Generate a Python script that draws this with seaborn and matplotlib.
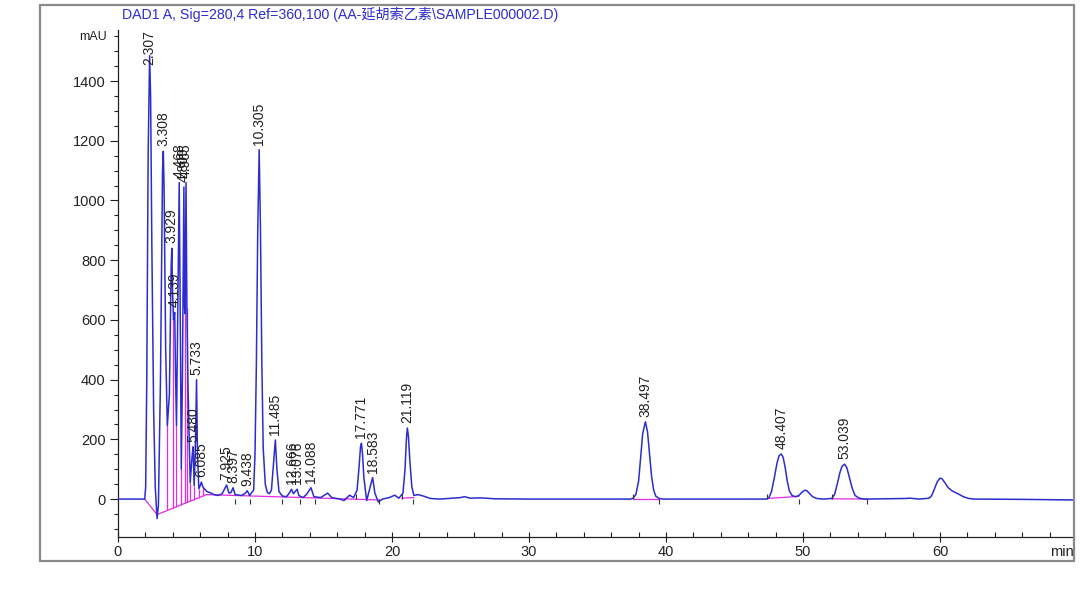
import numpy as np
import pandas as pd
import seaborn as sns
import matplotlib.pyplot as plt
from matplotlib.patches import Rectangle
from matplotlib.ticker import MultipleLocator
import matplotlib.transforms as mtransforms

# trace vertices (time in min, signal in mAU)
trace_t = [0.0, 1.95, 2.02, 2.1, 2.2, 2.307, 2.38, 2.47, 2.6, 2.72, 2.85, 2.95,
           3.1, 3.25, 3.308, 3.36, 3.48, 3.6, 3.75, 3.88, 3.929, 3.98, 4.05, 4.139,
           4.2, 4.27, 4.38, 4.468, 4.53, 4.62, 4.7, 4.809, 4.86, 4.9, 4.965, 5.03,
           5.1, 5.27, 5.4, 5.48, 5.56, 5.66, 5.733, 5.8, 5.9, 6.0, 6.085, 6.2, 6.5,
           6.8, 7.0, 7.3, 7.6, 7.925, 8.1, 8.25, 8.397, 8.55, 9.0, 9.25, 9.438, 9.6,
           9.9, 10.0, 10.1, 10.2, 10.305, 10.4, 10.5, 10.6, 10.75, 10.9, 11.05,
           11.2, 11.35, 11.485, 11.6, 11.75, 12.0, 12.3, 12.5, 12.666, 12.8, 13.076,
           13.2, 13.5, 13.75, 14.088, 14.3, 14.8, 15.3, 15.6, 16.2, 16.5, 16.9,
           17.2, 17.45, 17.6, 17.7, 17.771, 17.85, 17.95, 18.15, 18.35, 18.583,
           18.75, 19.0, 19.3, 19.8, 20.2, 20.5, 20.8, 20.95, 21.05, 21.119, 21.2,
           21.3, 21.45, 21.6, 21.9, 22.3, 22.8, 23.5, 25.0, 25.3, 25.7, 26.5, 27.5,
           30.0, 37.4, 37.6, 37.8, 38.0, 38.15, 38.3, 38.497, 38.65, 38.8, 38.95,
           39.1, 39.25, 39.5, 39.8, 47.3, 47.5, 47.7, 47.9, 48.1, 48.25, 48.407,
           48.55, 48.7, 48.85, 49.0, 49.2, 49.45, 49.7, 49.9, 50.1, 50.25, 50.45,
           50.7, 51.0, 51.5, 52.1, 52.3, 52.5, 52.7, 52.85, 53.039, 53.2, 53.4,
           53.6, 53.8, 54.1, 54.5, 57.5, 57.8, 58.5, 59.2, 59.4, 59.6, 59.8, 60.0,
           60.15, 60.35, 60.6, 60.9, 61.3, 61.7, 62.1, 62.5, 66.0, 69.8]
trace_y = [0, 0, 40, 400, 1150, 1485, 1350, 850, 300, 40, -65, -20,
           400, 1100, 1165, 1050, 500, 245, 350, 780, 840, 700, 600, 625,
           420, 245, 700, 1060, 700, 100, 400, 1045, 640, 620, 1060, 640,
           400, 55, 140, 175, 45, 200, 400, 150, 35, 45, 57, 40, 25,
           20, 15, 12, 18, 47, 20, 22, 38, 15, 12, 18, 28, 12,
           30, 150, 450, 900, 1170, 900, 450, 170, 50, 22, 18,
           30, 120, 198, 100, 25, 10, 8, 20, 33, 18, 33,
           12, 5, 15, 38, 8, 5, 20, 5, 0, -5, 13,
           5, 30, 110, 175, 187, 150, 70, -5, 30, 72,
           20, -10, 0, 5, 13, 3, 20, 100, 200, 238, 210,
           130, 40, 12, 15, 10, 2, 0, 5, 8, 3, 4, 1,
           0, 0, 3, 15, 60, 140, 220, 259, 225, 150, 75,
           30, 10, 2, 0, 0, 4, 25, 70, 120, 145, 151,
           140, 105, 60, 28, 12, 8, 12, 22, 29, 29, 20,
           8, 2, 0, 2, 15, 50, 90, 110, 117, 105, 70,
           35, 12, 3, 0, 2, 3, 0, 3, 12, 35, 58, 70,
           68, 55, 38, 27, 18, 8, 2, 0, -1, -3]

# labelled peaks
peak_rt = [2.307, 3.308, 3.929, 4.139, 4.468, 4.809, 4.965, 5.480, 5.733, 6.085,
           7.925, 8.397, 9.438, 10.305, 11.485, 12.666, 13.076, 14.088, 17.771,
           18.583, 21.119, 38.497, 48.407, 53.039]
peak_h = [1485, 1165, 840, 625, 1060, 1045, 1060, 175, 400, 57,
          47, 38, 28, 1170, 198, 33, 33, 38, 187,
          72, 238, 259, 151, 117]

# integration baselines (magenta)
base_segments = [
    ([1.95, 2.85, 6.45], [0, -52, 15]),
    ([6.45, 19.1], [15, -3]),
    ([20.7, 21.6], [3, 5]),
    ([37.6, 39.5], [0, 0]),
    ([47.4, 49.7], [2, 9]),
    ([52.1, 54.7], [1, 0]),
]
# drop lines between fused peaks
drop_t = [3.6, 4.05, 4.27, 4.62, 4.9, 5.03, 5.27, 5.56, 5.9, 6.2]
drop_top = [245, 600, 245, 100, 620, 640, 55, 45, 35, 40]
# peak start / end event marks
start_marks = [17.4, 20.7, 37.6, 47.4, 52.1]
end_marks = [8.55, 9.65, 11.95, 13.3, 14.4, 19.05, 21.55, 39.5, 49.7, 54.7]

title = "DAD1 A, Sig=280,4 Ref=360,100 (AA-延胡索乙素\\SAMPLE000002.D)"

sns.set_theme(style="ticks")
plt.rcParams['font.family'] = ['Liberation Sans', 'Noto Sans CJK SC', 'DejaVu Sans']

W, H = 1080, 598
fig = plt.figure(figsize=(W / 100, H / 100), dpi=100)
fig.patch.set_facecolor('white')
ax = fig.add_axes([118 / W, 1 - 537 / H, (1074 - 118) / W, (537 - 30) / H])
ax.set_facecolor('white')

# outer frame
fig.patches.append(Rectangle((40 / W, 1 - 561 / H), (1074 - 40) / W, (561 - 5) / H,
                             transform=fig.transFigure, fill=False,
                             edgecolor='#8a8a8a', lw=1.6, zorder=0))

blue = '#2c2cd0'
magenta = '#e22be2'

df = pd.DataFrame({'t': trace_t, 'y': trace_y})
sns.lineplot(data=df, x='t', y='y', ax=ax, color=blue, lw=1.1,
             estimator=None, sort=False, zorder=3)

for bt, by in base_segments:
    sns.lineplot(x=bt, y=by, ax=ax, color=magenta, lw=0.9,
                 estimator=None, sort=False, zorder=2)

bt_all = base_segments[0][0]
by_all = base_segments[0][1]
drop_bottom = np.interp(drop_t, bt_all, by_all)
ax.vlines(drop_t, drop_bottom, drop_top, color=magenta, lw=0.9, zorder=2)

ax.vlines(start_marks, 0, 17, color='#333333', lw=0.8, zorder=4)
ax.vlines(end_marks, -17, 0, color='#333333', lw=0.8, zorder=4)

ymin, ymax = -127, 1571
ax.set_xlim(0, 69.78)
ax.set_ylim(ymin, ymax)

for rt, h in zip(peak_rt, peak_h):
    lab = f"{rt:.3f}"
    if h + 17 + 125 > ymax:
        ax.text(rt, ymax, lab, rotation=90, ha='center', va='top',
                fontsize=10, color='#222222', zorder=5)
    else:
        ax.text(rt, h + 17, lab, rotation=90, ha='center', va='bottom',
                fontsize=10, color='#222222', zorder=5)

ax.xaxis.set_major_locator(MultipleLocator(10))
ax.xaxis.set_minor_locator(MultipleLocator(2))
ax.yaxis.set_major_locator(MultipleLocator(200))
ax.yaxis.set_minor_locator(MultipleLocator(50))
ax.set_yticks(np.arange(0, 1401, 200))

ax.tick_params(axis='y', which='major', direction='out', length=6, width=0.8,
               labelsize=10.5, pad=3, colors='#222222')
ax.tick_params(axis='y', which='minor', direction='out', length=3, width=0.8,
               colors='#222222')
ax.tick_params(axis='x', which='major', direction='inout', length=7, width=0.8,
               labelsize=10.5, pad=2, colors='#222222')
ax.tick_params(axis='x', which='minor', direction='in', length=3.5, width=0.8,
               colors='#222222')

for s in ['top', 'right']:
    ax.spines[s].set_visible(False)
for s in ['left', 'bottom']:
    ax.spines[s].set_color('#222222')
    ax.spines[s].set_linewidth(0.9)

ax.set_xlabel('')
ax.set_ylabel('')

trans = mtransforms.blended_transform_factory(ax.transAxes, ax.transData)
ax.text(-0.012, 1547, 'mAU', transform=trans, ha='right', va='center',
        fontsize=9, color='#222222')
ax.text(1.0, -0.016, 'min', transform=ax.transAxes, ha='right', va='top',
        fontsize=10.5, color='#222222')

fig.text(122 / W, 1 - 14 / H, title, ha='left', va='center',
         fontsize=10.2, color=blue)

fig.savefig('out.png', dpi=100, facecolor='white')
